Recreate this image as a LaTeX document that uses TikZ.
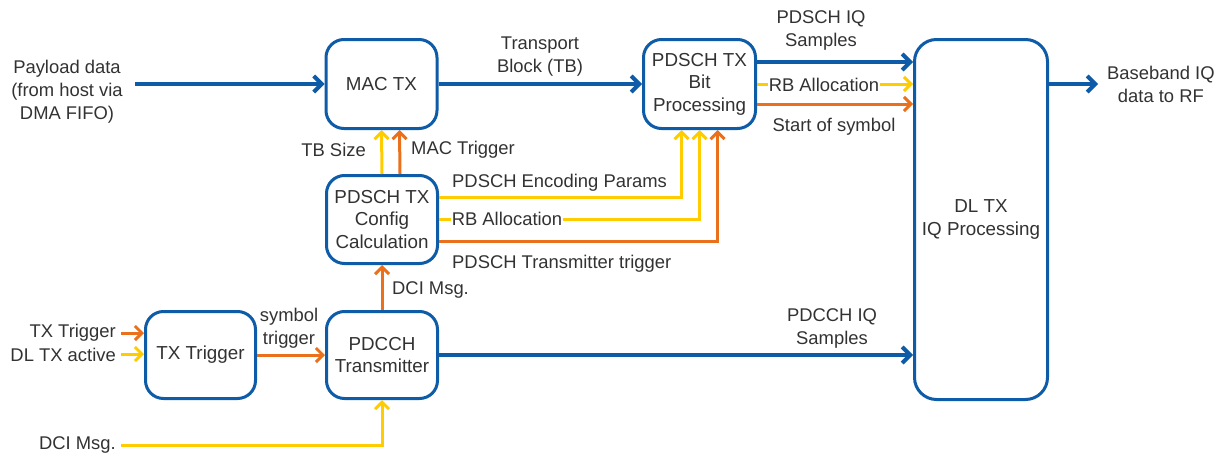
\documentclass[tikz,border=0pt]{standalone}
\usepackage{fontspec}
\setmainfont{Liberation Sans}
\usetikzlibrary{arrows.meta,calc}
\definecolor{cblue}{RGB}{14,92,168}
\definecolor{corange}{RGB}{234,112,28}
\definecolor{cyellow}{RGB}{255,204,0}
\definecolor{ctext}{RGB}{50,50,50}
\begin{document}
\begin{tikzpicture}[x=1pt,y=-1pt,
 box/.style={draw=cblue, line width=3pt, rounded corners=18pt, fill=white, align=center, text=ctext, inner sep=0pt, font=\fontsize{18.8}{22.5}\selectfont},
 lbl/.style={text=ctext, font=\fontsize{18.4}{23}\selectfont, align=center, inner sep=1pt},
 bw/.style={draw=cblue, line width=4pt, -{Straight Barb[length=8pt,width=16pt]}},
 ow/.style={draw=corange, line width=3pt, -{Straight Barb[length=7pt,width=14pt]}},
 yw/.style={draw=cyellow, line width=3pt, -{Straight Barb[length=7pt,width=14pt]}},
]
\useasboundingbox (0,0) rectangle (1223,455);

% boxes
\node[box, minimum width=111pt, minimum height=89pt] (mac) at (381.5,84) {MAC TX};
\node[box, minimum width=112pt, minimum height=89pt] (pdsch) at (699.5,84) {PDSCH TX\\Bit\\Processing};
\node[box, minimum width=111pt, minimum height=88pt] (cfg) at (382,219.5) {PDSCH TX\\Config\\Calculation};
\node[box, minimum width=110pt, minimum height=87pt] (trig) at (200.5,355) {TX Trigger};
\node[box, minimum width=111pt, minimum height=87pt] (pdcch) at (382,355) {PDCCH\\Transmitter};
\node[box, minimum width=133pt, minimum height=360pt, rounded corners=22pt] (dl) at (981,219.5) {DL TX\\IQ Processing};

% free ends
\coordinate (payin) at (135,84);
\coordinate (txin) at (121,333);
\coordinate (dlain) at (121,354);
\coordinate (dciin) at (121,445);
\coordinate (bbout) at (1098,84);

% helper points
\coordinate (ps1) at ([yshift=22pt]pdsch.east);
\coordinate (ps3) at ([yshift=-20pt]pdsch.east);
\coordinate (dlout) at (dl.east |- mac.east);

% connectors
\draw[bw] (payin) -- (mac.west);
\draw[bw] (mac.east) -- (pdsch.west);
\draw[bw] (ps1) -- (ps1 -| dl.west);
\draw[yw] (pdsch.east) -- (pdsch.east -| dl.west);
\draw[ow] (ps3) -- (ps3 -| dl.west);
\draw[bw] (dlout) -- (bbout);

\draw[yw] (cfg.north) -- (mac.south);
\draw[ow] ([xshift=18pt]cfg.north) -- ([xshift=18pt]mac.south);

\draw[yw] ([yshift=22pt]cfg.east) -| ([xshift=-18pt]pdsch.south);
\draw[yw] (cfg.east) -| (pdsch.south);
\draw[ow] ([yshift=-22pt]cfg.east) -| ([xshift=18pt]pdsch.south);

\draw[ow] (pdcch.north) -- (cfg.south);
\draw[ow] (txin) -- (txin -| trig.west);
\draw[yw] (dlain) -- (dlain -| trig.west);
\draw[ow] (trig.east) -- (pdcch.west);
\draw[bw] (pdcch.east) -- (pdcch.east -| dl.west);
\draw[yw] (dciin) -| (pdcch.south);

% labels
\node[lbl] (lpay) at (67,92) {Payload data\\(from host via\\DMA FIFO)};
\node[lbl] (ltb) at (540,57) {Transport\\Block (TB)};
\node[lbl] (lpiq) at (821,30) {PDSCH IQ\\Samples};
\node[lbl, fill=white] (lrb1) at (824,85) {RB Allocation};
\node[lbl] (lsos) at (834,127) {Start of symbol};
\node[lbl, anchor=west] (lbb) at (1106,84) {Baseband IQ\\data to RF};
\node[lbl, anchor=east] (ltbs) at (367,150) {TB Size};
\node[lbl, anchor=west] (lmt) at (410,150) {MAC Trigger};
\node[lbl, anchor=west] (lenc) at (451,183) {PDSCH Encoding Params};
\node[lbl, fill=white] (lrb2) at (507,219) {RB Allocation};
\node[lbl, anchor=west] (lptt) at (451,264) {PDSCH Transmitter trigger};
\node[lbl, anchor=west] (ldci1) at (391,290) {DCI Msg.};
\node[lbl] (lsym) at (289,328) {symbol\\trigger};
\node[lbl] (lpdiq) at (832,328) {PDCCH IQ\\Samples};
\node[lbl, anchor=east] (ltxt) at (117,333) {TX Trigger};
\node[lbl, anchor=east] (ldla) at (117,355) {DL TX active};
\node[lbl, anchor=east] (ldci2) at (117,445) {DCI Msg.};
\end{tikzpicture}
\end{document}
